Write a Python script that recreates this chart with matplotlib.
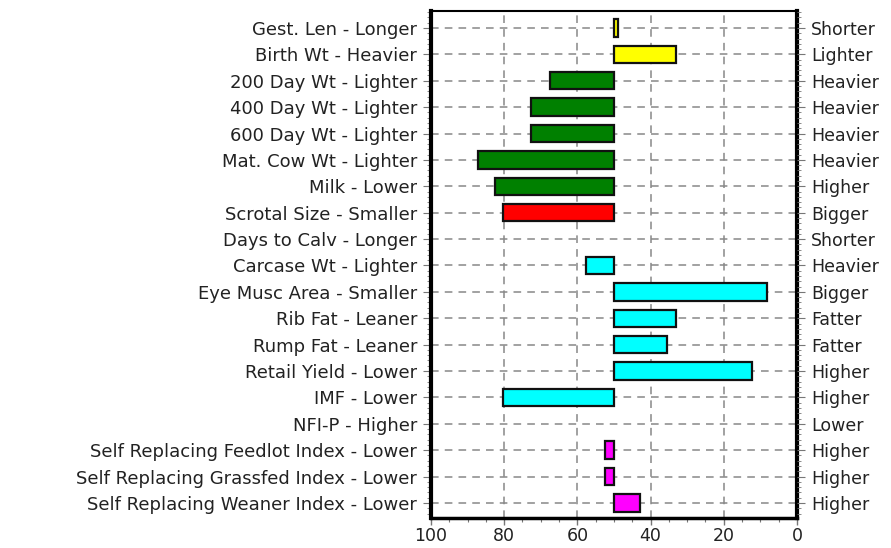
import matplotlib
matplotlib.use("Agg")
import matplotlib.pyplot as plt
import numpy as np
from matplotlib.ticker import MultipleLocator

left_labels = ["Gest. Len - Longer", "Birth Wt - Heavier", "200 Day Wt - Lighter",
               "400 Day Wt - Lighter", "600 Day Wt - Lighter", "Mat. Cow Wt - Lighter",
               "Milk - Lower", "Scrotal Size - Smaller", "Days to Calv - Longer",
               "Carcase Wt - Lighter", "Eye Musc Area - Smaller", "Rib Fat - Leaner",
               "Rump Fat - Leaner", "Retail Yield - Lower", "IMF - Lower", "NFI-P - Higher",
               "Self Replacing Feedlot Index - Lower", "Self Replacing Grassfed Index - Lower",
               "Self Replacing Weaner Index - Lower"]
right_labels = ["Shorter", "Lighter", "Heavier", "Heavier", "Heavier", "Heavier", "Higher",
                "Bigger", "Shorter", "Heavier", "Bigger", "Fatter", "Fatter", "Higher",
                "Higher", "Lower", "Higher", "Higher", "Higher"]
values = [49, 33, 67.5, 72.8, 72.8, 87.2, 82.5, 80.2, np.nan, 57.6, 8.1, 33.1, 35.4, 12.2,
          80.2, np.nan, 52.5, 52.5, 43]
colors = ["#ffff00", "#ffff00", "#008000", "#008000", "#008000", "#008000", "#008000",
          "#ff0000", "#00ffff", "#00ffff", "#00ffff", "#00ffff", "#00ffff", "#00ffff",
          "#00ffff", "#00ffff", "#ff00ff", "#ff00ff", "#ff00ff"]
baseline = 50
xticks = [100, 80, 60, 40, 20, 0]

plt.rcParams['font.family'] = ['DejaVu Sans']
fig = plt.figure(figsize=(8.91, 5.48), dpi=100)
ax = fig.add_axes([0.4837, 0.0547, 0.4108, 0.9258])
n = len(left_labels)
y = np.arange(n)
for i, (v, c) in enumerate(zip(values, colors)):
    if np.isnan(v):
        continue
    ax.barh(i, v - baseline, left=baseline, height=0.66, color=c,
            edgecolor="#111111", linewidth=1.6, zorder=3)

ax.set_xlim(100, 0)
ax.set_ylim(n - 1 + 0.57, -0.655)
ax.set_xticks(xticks)
ax.set_xticklabels([str(t) for t in xticks], fontsize=12.5, color="#222222")
ax.xaxis.set_minor_locator(MultipleLocator(5))
ax.set_yticks(y)
ax.set_yticklabels(left_labels, fontsize=13, color="#222222")
ax.yaxis.set_minor_locator(MultipleLocator(0.2))
ax.grid(True, which="major", color="#888888", linestyle=(0, (5, 4)), linewidth=1.1, zorder=0)
ax.tick_params(axis="y", which="major", length=6, width=0.8, color="#777777", pad=4)
ax.tick_params(axis="y", which="minor", length=3, width=0.6, color="#777777")
ax.tick_params(axis="x", which="major", length=5, width=1, color="#777777", pad=1.5)
ax.tick_params(axis="x", which="minor", length=3, width=0.8, color="#777777")
for s, w in [("left", 3), ("right", 3), ("top", 1.5), ("bottom", 2.5)]:
    ax.spines[s].set_linewidth(w)
    ax.spines[s].set_color("#000000")

ax2 = ax.twinx()
ax2.set_ylim(ax.get_ylim())
ax2.set_yticks(y)
ax2.set_yticklabels(right_labels, fontsize=12.5, color="#222222")
ax2.yaxis.set_minor_locator(MultipleLocator(0.2))
ax2.tick_params(axis="y", which="major", length=6, width=0.8, color="#777777", pad=4)
ax2.tick_params(axis="y", which="minor", length=3, width=0.6, color="#777777")
for s in ax2.spines.values():
    s.set_visible(False)

fig.savefig("out.png", dpi=100)
